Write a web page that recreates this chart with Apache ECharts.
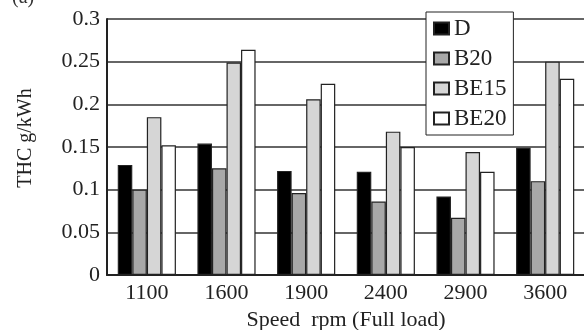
<!DOCTYPE html>
<html>
<head>
<meta charset="utf-8">
<script src="https://cdn.jsdelivr.net/npm/echarts@6/dist/echarts.min.js"></script>
<style>
html,body{margin:0;padding:0;background:#fff;}
#chart{width:584px;height:330px;}
</style>
</head>
<body>
<div id="chart"></div>
<script>
var categories = ['1100', '1600', '1900', '2400', '2900', '3600'];
var seriesNames = ['D', 'B20', 'BE15', 'BE20'];
var valuesD    = [0.129, 0.154, 0.122, 0.121, 0.092, 0.149];
var valuesB20  = [0.100, 0.125, 0.096, 0.086, 0.067, 0.110];
var valuesBE15 = [0.185, 0.249, 0.206, 0.168, 0.144, 0.250];
var valuesBE20 = [0.152, 0.264, 0.224, 0.150, 0.121, 0.230];
var yTicks = [0, 0.05, 0.1, 0.15, 0.2, 0.25, 0.3];
var yAxisName = 'THC g/kWh';
var xAxisName = 'Speed  rpm (Full load)';
var panelLabel = '(a)';

var seriesValues = [valuesD, valuesB20, valuesBE15, valuesBE20];
var fills = ['#000000', '#a8a8a8', '#d6d6d6', '#ffffff'];
var FONT = '"Liberation Serif", "Times New Roman", serif';

var chart = echarts.init(document.getElementById('chart'), null, {renderer: 'canvas'});
chart.setOption({
  animation: false,
  backgroundColor: '#ffffff',
  textStyle: {fontFamily: FONT},
  grid: {left: 107, top: 19, width: 478, height: 256, containLabel: false, outerBoundsMode: 'none'},
  legend: {
    orient: 'vertical',
    left: 426, top: 12,
    padding: [5, 7, 5, 7],
    backgroundColor: '#ffffff',
    borderColor: '#222222',
    borderWidth: 1,
    itemWidth: 15, itemHeight: 12, itemGap: 7,
    icon: 'rect',
    textStyle: {fontFamily: FONT, fontSize: 23, lineHeight: 22, color: '#222222', padding: [0, 0, 0, 0]},
    data: seriesNames
  },
  graphic: [{
    type: 'text', left: 12, top: -12,
    style: {text: panelLabel, font: '20px ' + FONT, fill: '#333'}
  }],
  xAxis: {
    type: 'category',
    data: categories,
    name: xAxisName,
    nameLocation: 'middle',
    nameGap: 32,
    nameTextStyle: {fontFamily: FONT, fontSize: 22, color: '#222'},
    axisLine: {lineStyle: {color: '#222', width: 2}},
    axisTick: {inside: true, length: 6, lineStyle: {color: '#222', width: 1.5}},
    axisLabel: {fontFamily: FONT, fontSize: 22, color: '#222', margin: 7},
    splitLine: {show: false}
  },
  yAxis: {
    type: 'value',
    min: 0, max: 0.3, interval: 0.05,
    name: yAxisName,
    nameLocation: 'middle',
    nameGap: 71,
    nameTextStyle: {fontFamily: FONT, fontSize: 20, color: '#222', padding: [0, 0, 0, 18]},
    axisLine: {show: true, lineStyle: {color: '#222', width: 2}},
    axisTick: {show: false},
    axisLabel: {
      fontFamily: FONT, fontSize: 22, color: '#222', margin: 7,
      formatter: function (v) {
        for (var i = 0; i < yTicks.length; i++) {
          if (Math.abs(yTicks[i] - v) < 1e-9) return String(yTicks[i]);
        }
        return '';
      }
    },
    splitLine: {show: true, lineStyle: {color: '#333', width: 1.5}}
  },
  series: seriesNames.map(function (name, i) {
    return {
      name: name,
      type: 'bar',
      data: seriesValues[i],
      barGap: '0%',
      barCategoryGap: '27%',
      itemStyle: {color: fills[i], borderColor: '#222', borderWidth: 1.2}
    };
  })
});
</script>
</body>
</html>
